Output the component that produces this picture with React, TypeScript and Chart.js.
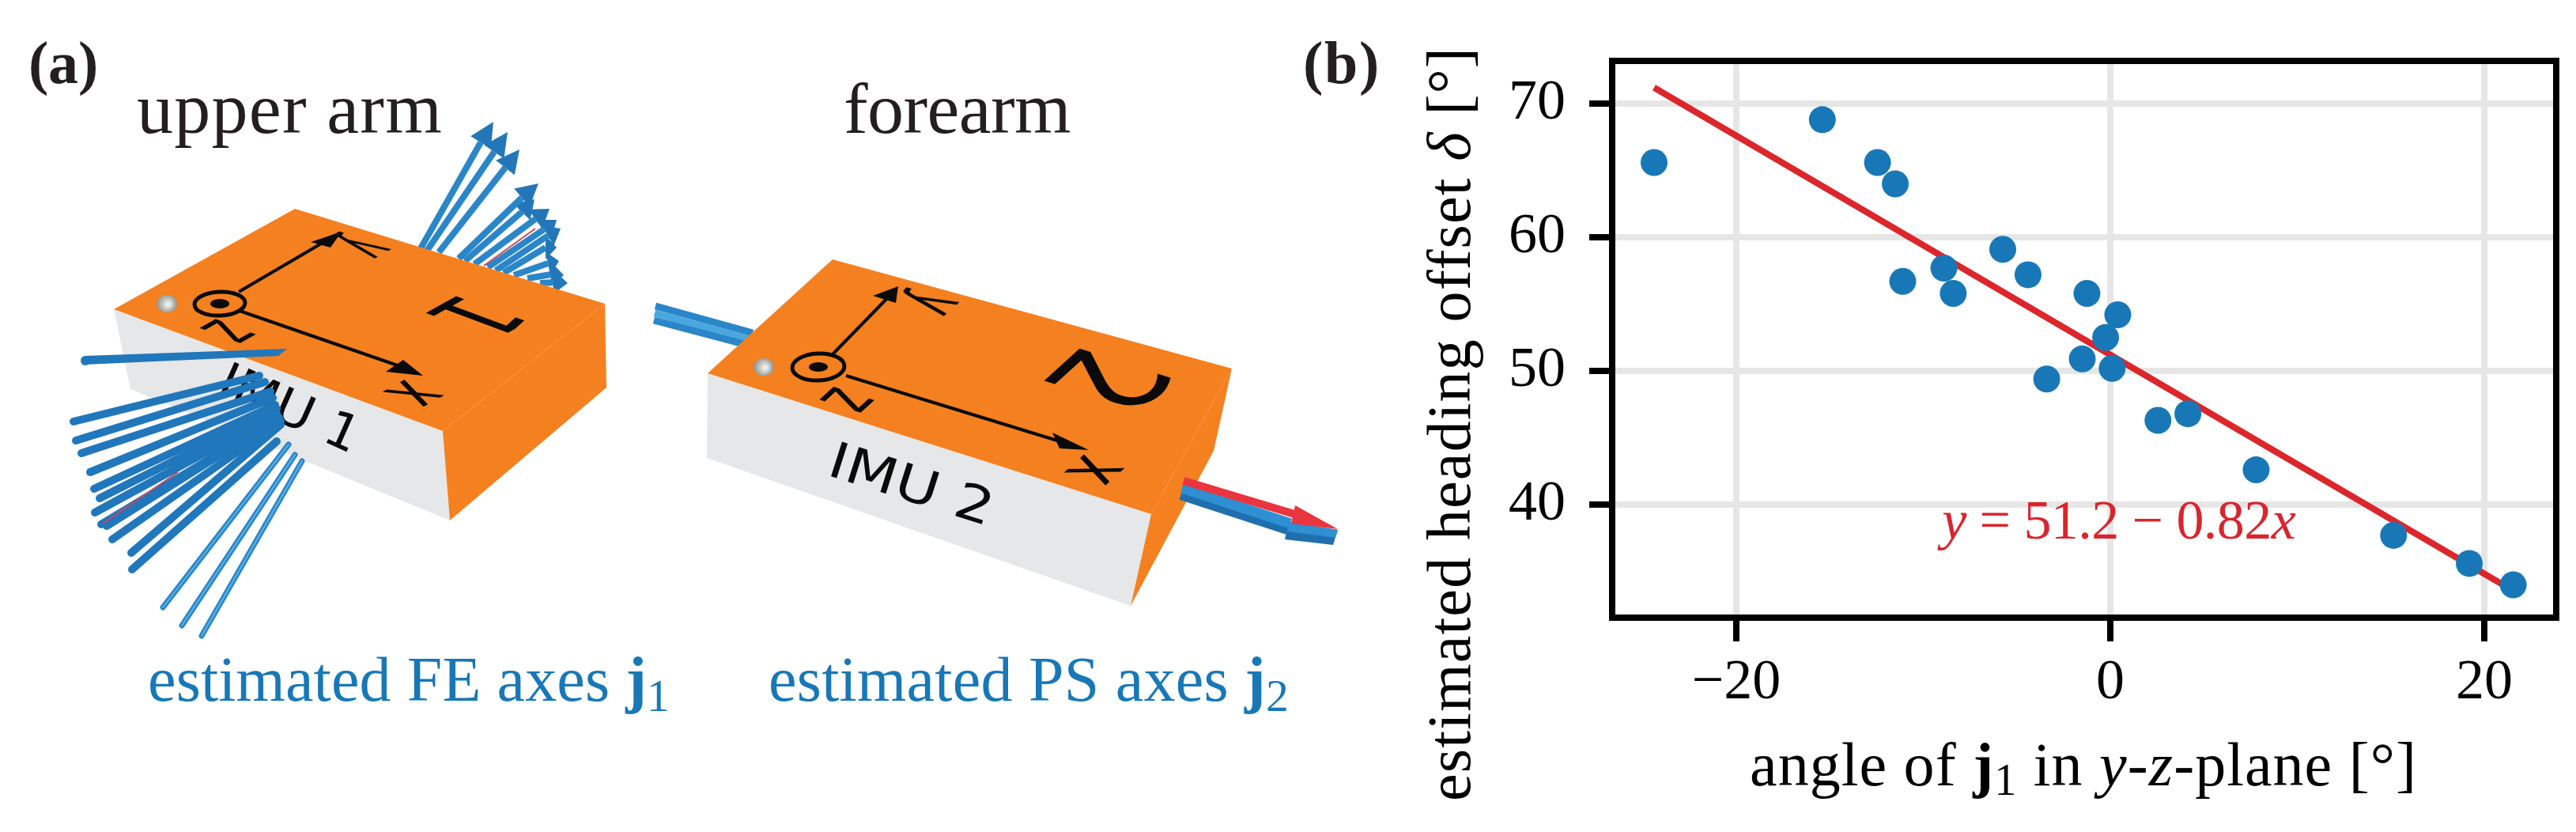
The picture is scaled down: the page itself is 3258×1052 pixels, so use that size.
import { useEffect, useRef } from "react";
import { Chart, registerables } from "chart.js";

Chart.register(...registerables);

const W = 3258;
const H = 1052;
const SERIF = '"Liberation Serif"';
const SANS = '"DejaVu Sans"';
const BLUE = "#1878b7";
const RED = "#d9252e";
const ORANGE = "#f58020";
const GREY = "#e6e7e8";

// panel (b) values
const anglesDeg = [-24.4, -15.4, -12.45, -11.5, -11.1, -8.9, -8.4, -5.75, -4.4, -3.4, -1.5, -1.25, -0.25, 0.1, 0.4, 2.55, 4.15, 7.8, 15.15, 19.2, 21.55];
const headingOffsets = [65.6, 68.8, 65.6, 64.0, 56.7, 57.7, 55.8, 59.1, 57.2, 49.4, 50.9, 55.8, 52.5, 50.2, 54.2, 46.3, 46.8, 42.6, 37.7, 35.6, 34.0];
const fitX = [-24.4, 21.5];
const fitY = [71.2, 33.6];

// panel (a) is a rendered picture, so it is sketched in page pixels
type Pt = [number, number];
const rodsLower: [number, number, number, number][] = [
  [93, 533, 328, 475], [96, 557, 335, 483], [103, 573, 342, 495], [114, 597, 345, 503],
  [119, 618, 348, 512], [126, 630, 350, 517], [120, 648, 350, 523], [128, 663, 352, 528],
  [135, 665, 353, 528], [142, 682, 355, 533], [166, 699, 355, 537], [167, 720, 350, 558],
];
const rodsThin: [number, number, number, number][] = [
  [206, 768, 365, 562], [230, 791, 373, 575], [255, 804, 382, 583],
];
// base x, base y, head x, head y, tip x, tip y
const arrowsUpper: number[][] = [
  [667, 352, 697, 347, 713, 348], [683, 358, 700, 357, 718, 358], [650, 348, 693, 333, 707, 330],
  [637, 345, 690, 313, 704, 313], [627, 342, 693, 298, 709, 289], [617, 338, 688, 290, 704, 278],
  [600, 334, 677, 277, 695, 264], [588, 330, 660, 268, 676, 252], [580, 327, 660, 250, 681, 232],
  [555, 319, 639, 212, 657, 189], [540, 317, 625, 192, 642, 167], [527, 323, 608, 180, 624, 154],
];

// in-plane directions of the two top faces, along the box width and along its length
const faceA = { u: [-0.875, 0.485], v: [0.94, 0.35] };
const faceB = { u: [-0.74, 0.67], v: [0.953, 0.302] };

function poly(ctx: CanvasRenderingContext2D, pts: Pt[], color: string) {
  ctx.fillStyle = color;
  ctx.beginPath();
  pts.forEach((p, i) => (i ? ctx.lineTo(p[0], p[1]) : ctx.moveTo(p[0], p[1])));
  ctx.closePath();
  ctx.fill();
}

function seg(ctx: CanvasRenderingContext2D, x1: number, y1: number, x2: number, y2: number, w: number, color: string, cap: CanvasLineCap = "round") {
  ctx.strokeStyle = color;
  ctx.lineWidth = w;
  ctx.lineCap = cap;
  ctx.beginPath();
  ctx.moveTo(x1, y1);
  ctx.lineTo(x2, y2);
  ctx.stroke();
}

// letter printed on a top face, so it follows the face's perspective
function glyph(ctx: CanvasRenderingContext2D, text: string, x: number, y: number, size: number, face: { u: number[]; v: number[] }, su: number) {
  ctx.save();
  ctx.transform(face.u[0] * su, face.u[1] * su, -face.v[0], -face.v[1], x, y);
  ctx.font = `${size}px ${SANS}`;
  ctx.fillStyle = "#0a0a0a";
  ctx.textAlign = "center";
  ctx.textBaseline = "middle";
  ctx.fillText(text, 0, 0);
  ctx.restore();
}

function screw(ctx: CanvasRenderingContext2D, x: number, y: number) {
  const g = ctx.createRadialGradient(x + 2, y + 1, 1, x, y, 13);
  g.addColorStop(0, "#f4f4f0");
  g.addColorStop(0.6, "#b5b8b4");
  g.addColorStop(1, "#8d908c");
  ctx.fillStyle = g;
  ctx.beginPath();
  ctx.ellipse(x, y, 13, 11, 0, 0, Math.PI * 2);
  ctx.fill();
}

function axesMark(ctx: CanvasRenderingContext2D, cx: number, cy: number, rx: number, ry: number, yArrow: number[], xArrow: number[], yHead: Pt[], xHead: Pt[]) {
  ctx.strokeStyle = "#0a0a0a";
  ctx.lineWidth = 5;
  ctx.beginPath();
  ctx.ellipse(cx, cy, rx, ry, -0.04, 0, Math.PI * 2);
  ctx.stroke();
  ctx.fillStyle = "#0a0a0a";
  ctx.beginPath();
  ctx.ellipse(cx, cy, 12, 6, 0, 0, Math.PI * 2);
  ctx.fill();
  seg(ctx, yArrow[0], yArrow[1], yArrow[2], yArrow[3], 4, "#0a0a0a", "butt");
  seg(ctx, xArrow[0], xArrow[1], xArrow[2], xArrow[3], 4, "#0a0a0a", "butt");
  poly(ctx, yHead, "#0a0a0a");
  poly(ctx, xHead, "#0a0a0a");
}

function drawUpperArm(ctx: CanvasRenderingContext2D) {
  arrowsUpper.forEach((a) => {
    seg(ctx, a[0], a[1], a[2], a[3], 8, "#2a86c8", "butt");
    const dx = a[4] - a[2];
    const dy = a[5] - a[3];
    const len = Math.hypot(dx, dy) || 1;
    const nx = (-dy / len) * 15;
    const ny = (dx / len) * 15;
    poly(ctx, [[a[2] + nx, a[3] + ny], [a[4], a[5]], [a[2] - nx, a[3] - ny]], "#2377b8");
  });
  seg(ctx, 612, 336, 677, 289, 2, "#c8475a", "butt");
  poly(ctx, [[144, 391], [560, 545], [569, 658], [165, 492]], GREY);
  poly(ctx, [[144, 391], [373, 264], [765, 384], [560, 545]], ORANGE);
  poly(ctx, [[560, 545], [765, 384], [767, 490], [569, 658]], ORANGE);

  ctx.save();
  ctx.translate(272, 497);
  ctx.rotate((24 * Math.PI) / 180);
  ctx.scale(1.05, 1);
  ctx.font = `63px ${SANS}`;
  ctx.fillStyle = "#0a0a0a";
  ctx.fillText("IMU 1", 0, 0);
  ctx.restore();

  screw(ctx, 211, 384);
  axesMark(ctx, 278, 384, 32, 15, [302, 369, 425, 297], [303, 393, 520, 468],
    [[432, 293], [393, 306], [418, 313]], [[535, 475], [510, 455], [488, 470]]);
  glyph(ctx, "z", 287, 418, 100, faceA, 0.53);
  glyph(ctx, "y", 460, 312, 90, faceA, 0.5);
  glyph(ctx, "x", 522, 497, 100, faceA, 0.6);
  glyph(ctx, "1", 591, 396, 130, faceA, 0.8);

  rodsLower.forEach((r) => seg(ctx, r[0], r[1], r[2], r[3], 10, "#2077bb"));
  seg(ctx, 130, 662, 225, 597, 2, "#c8475a", "butt");
  seg(ctx, 135, 665, 353, 528, 8, "#2077bb");
  rodsThin.forEach((r) => {
    seg(ctx, r[0], r[1], r[2], r[3], 7, "#2a86c8");
    seg(ctx, r[0], r[1], r[2], r[3], 2, "#5cb2e6");
  });
  // the one rod lying across the top face
  poly(ctx, [[107, 450], [363, 441], [352, 450], [107, 461]], "#2077bb");
  ctx.fillStyle = "#2077bb";
  ctx.beginPath();
  ctx.arc(108, 456, 6, 0, Math.PI * 2);
  ctx.fill();
}

function drawForearm(ctx: CanvasRenderingContext2D) {
  seg(ctx, 829, 387, 952, 421, 9, "#2a86c8", "butt");
  seg(ctx, 828, 396, 952, 430, 9, "#4aa6de", "butt");
  seg(ctx, 827, 405, 952, 438, 9, "#2a86c8", "butt");

  poly(ctx, [[895, 472], [1456, 650], [1430, 766], [894, 579]], GREY);
  poly(ctx, [[895, 472], [1053, 328], [1558, 466], [1456, 650]], ORANGE);
  poly(ctx, [[1456, 650], [1558, 466], [1535, 570], [1430, 766]], ORANGE);

  ctx.save();
  ctx.translate(1044, 600);
  ctx.rotate((17.6 * Math.PI) / 180);
  ctx.scale(1.2, 1);
  ctx.font = `63px ${SANS}`;
  ctx.fillStyle = "#0a0a0a";
  ctx.fillText("IMU 2", 0, 0);
  ctx.restore();

  screw(ctx, 966, 464);
  axesMark(ctx, 1035, 464, 33, 17, [1053, 448, 1130, 369], [1070, 475, 1350, 561],
    [[1136, 362], [1104, 374], [1133, 383]], [[1377, 569], [1331, 547], [1340, 567]]);
  glyph(ctx, "z", 1070, 505, 100, faceB, 0.55);
  glyph(ctx, "y", 1179, 383, 90, faceB, 0.55);
  glyph(ctx, "x", 1383, 594, 100, faceB, 0.65);
  glyph(ctx, "2", 1385, 476, 175, faceB, 0.75);

  seg(ctx, 1493, 627, 1628, 671, 10, "#1f6fae", "butt");
  seg(ctx, 1495, 617, 1632, 662, 13, "#2e8fd2", "butt");
  poly(ctx, [[1630, 660], [1692, 670], [1686, 689], [1625, 682]], "#1f6fae");
  poly(ctx, [[1630, 660], [1692, 670], [1689, 680], [1628, 672]], "#2e8fd2");
  seg(ctx, 1497, 608, 1637, 650, 10, "#e8353f", "butt");
  poly(ctx, [[1638, 639], [1692, 669], [1633, 662]], "#e8353f");
}

type Run = { t: string; style?: string; sub?: boolean };

// mixed bold / italic / subscript text, stretched to the measured width
function drawRuns(ctx: CanvasRenderingContext2D, runs: Run[], x: number, y: number, size: number, width: number, color: string, deg = 0) {
  ctx.save();
  ctx.translate(x, y);
  ctx.rotate((deg * Math.PI) / 180);
  ctx.fillStyle = color;
  ctx.textAlign = "left";
  ctx.textBaseline = "alphabetic";
  const fontOf = (r: Run) => `${r.style ?? "normal"} ${r.sub ? size * 0.72 : size}px ${SERIF}`;
  let natural = 0;
  let chars = 0;
  (ctx as any).letterSpacing = "0px";
  runs.forEach((r) => {
    ctx.font = fontOf(r);
    natural += ctx.measureText(r.t).width;
    chars += r.t.length;
  });
  const spacing = (width - natural) / chars;
  (ctx as any).letterSpacing = `${spacing}px`;
  let cx = 0;
  runs.forEach((r) => {
    ctx.font = fontOf(r);
    ctx.fillText(r.t, cx, r.sub ? size * 0.16 : 0);
    cx += ctx.measureText(r.t).width;
  });
  ctx.restore();
}

const sketchPlugin = {
  id: "sketch",
  beforeDraw(chart: Chart) {
    const ctx = chart.ctx;
    ctx.save();
    drawUpperArm(ctx);
    drawForearm(ctx);
    drawRuns(ctx, [{ t: "(a)", style: "bold" }], 36, 105, 76, 88, "#231f20");
    drawRuns(ctx, [{ t: "(b)", style: "bold" }], 1648, 105, 76, 98, "#231f20");
    drawRuns(ctx, [{ t: "upper arm" }], 173, 168, 92, 387, "#231f20");
    drawRuns(ctx, [{ t: "forearm" }], 1067, 168, 92, 287, "#231f20");
    drawRuns(ctx, [{ t: "estimated FE axes " }, { t: "j", style: "bold" }, { t: "1", sub: true }], 187, 886, 80, 660, BLUE);
    drawRuns(ctx, [{ t: "estimated PS axes " }, { t: "j", style: "bold" }, { t: "2", sub: true }], 972, 886, 80, 658, BLUE);
    ctx.restore();
  },
  afterDraw(chart: Chart) {
    const ctx = chart.ctx;
    const { left, top, width, height } = chart.chartArea;
    ctx.save();
    ctx.strokeStyle = "#000";
    ctx.lineWidth = 8;
    ctx.strokeRect(left, top, width, height);
    drawRuns(ctx, [
      { t: "angle of " }, { t: "j", style: "bold" }, { t: "1", sub: true }, { t: " in " },
      { t: "y", style: "italic" }, { t: "-" }, { t: "z", style: "italic" }, { t: "-plane [°]" },
    ], 2213, 993, 78, 844, "#000");
    drawRuns(ctx, [{ t: "estimated heading offset " }, { t: "δ", style: "italic" }, { t: " [°]" }], 1859, 1013, 78, 954, "#000", -90);
    const ax = chart.scales.x.getPixelForValue(-9);
    const ay = chart.scales.y.getPixelForValue(37.45);
    drawRuns(ctx, [
      { t: "y", style: "italic" }, { t: " = 51.2 − 0.82" }, { t: "x", style: "italic" },
    ], ax, ay, 70, 447, RED);
    ctx.restore();
  },
};

function OffsetChart() {
  const canvasRef = useRef<HTMLCanvasElement>(null);

  useEffect(() => {
    if (!canvasRef.current) return;
    const tickFont = { family: SERIF, size: 72 };
    const chart = new Chart(canvasRef.current, {
      type: "scatter",
      data: {
        datasets: [
          {
            label: "estimates",
            data: anglesDeg.map((x, i) => ({ x, y: headingOffsets[i] })),
            backgroundColor: BLUE,
            borderWidth: 0,
            pointRadius: 17,
            order: 1,
          },
          {
            label: "fit",
            data: fitX.map((x, i) => ({ x, y: fitY[i] })),
            showLine: true,
            borderColor: "#dc262b",
            borderWidth: 8,
            pointRadius: 0,
            order: 2,
          },
        ],
      },
      options: {
        responsive: false,
        animation: false,
        devicePixelRatio: 1,
        layout: { padding: { left: 1900, right: 25, top: 77, bottom: 0 } },
        plugins: { legend: { display: false }, title: { display: false }, tooltip: { enabled: false } },
        scales: {
          x: {
            type: "linear",
            min: -26.64,
            max: 23.85,
            afterFit: (s) => {
              s.height = 271;
            },
            border: { display: false },
            grid: { color: "#e6e6e6", lineWidth: 8, tickColor: "#000", tickLength: 30, tickWidth: 8 },
            ticks: {
              stepSize: 20,
              includeBounds: false,
              maxRotation: 0,
              padding: 10,
              color: "#000",
              font: tickFont,
              callback: (v) => String(v).replace("-", "−"),
            },
          },
          y: {
            type: "linear",
            min: 31.54,
            max: 73.2,
            afterFit: (s) => {
              s.width = 139;
            },
            border: { display: false },
            grid: { color: "#e6e6e6", lineWidth: 8, tickColor: "#000", tickLength: 29, tickWidth: 8 },
            ticks: { stepSize: 10, includeBounds: false, padding: 30, color: "#000", font: tickFont },
          },
        },
      },
      plugins: [sketchPlugin],
    });
    return () => chart.destroy();
  }, []);

  return <canvas ref={canvasRef} width={W} height={H} style={{ display: "block" }} role="img" aria-label="IMU axes sketch and scatter of heading offset against axis angle" />;
}

export default function App() {
  return (
    <div style={{ position: "fixed", left: 0, top: 0, width: W, height: H, background: "#fff" }}>
      <OffsetChart />
    </div>
  );
}
